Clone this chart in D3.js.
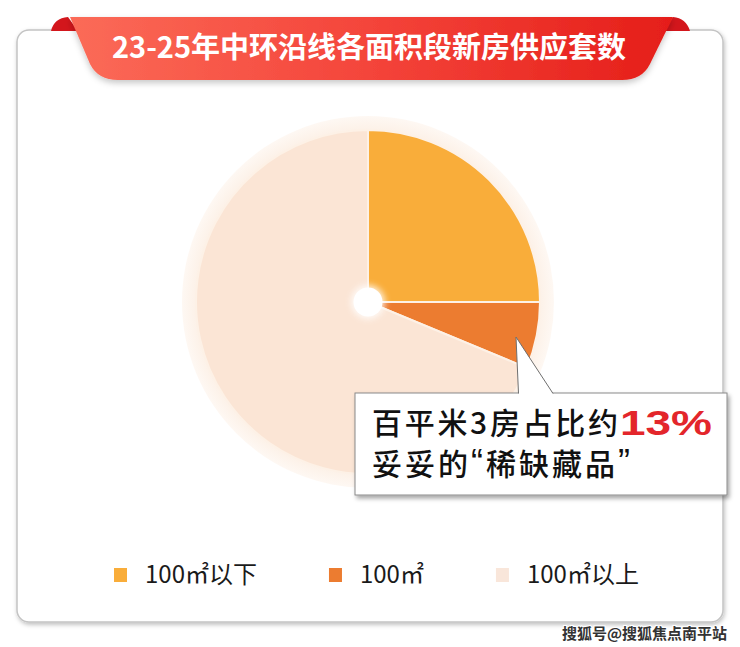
<!DOCTYPE html>
<html><head><meta charset="utf-8">
<script src="https://cdn.jsdelivr.net/npm/d3@7"></script>
<style>body{margin:0;background:#fff}svg{display:block}</style>
</head><body>
<svg id="c" width="740" height="647"></svg>
<script>
const title = "23-25年中环沿线各面积段新房供应套数";
const categories = ["100㎡以下", "100㎡", "100㎡以上"];
const values = [25, 6.25, 68.75];
const colors = ["#F9AD3A", "#EC7C30", "#FBE5D5"];
const legendColors = ["#F9AD3A", "#EC7C30", "#F9E6DA"];
const calloutLine1 = "百平米3房占比约";
const calloutHighlight = "13%";
const calloutLine2 = ["妥妥的", "“", "稀缺藏品", "”"];
const watermark = "搜狐号@搜狐焦点南平站";

const CJK = "'Noto Sans CJK SC','Noto Sans',sans-serif";
const svg = d3.select("#c");
svg.append("rect").attr("width", 740).attr("height", 647).attr("fill", "#fff");

const defs = svg.append("defs");
const sh = defs.append("filter").attr("id", "cardShadow").attr("x", "-5%").attr("y", "-5%").attr("width", "110%").attr("height", "110%");
sh.append("feDropShadow").attr("dx", 1).attr("dy", 2).attr("stdDeviation", 2).attr("flood-color", "#000").attr("flood-opacity", 0.25);
const sh2 = defs.append("filter").attr("id", "boxShadow").attr("x", "-5%").attr("y", "-10%").attr("width", "115%").attr("height", "130%");
sh2.append("feDropShadow").attr("dx", 2).attr("dy", 3).attr("stdDeviation", 2.2).attr("flood-color", "#000").attr("flood-opacity", 0.35);
const sh3 = defs.append("filter").attr("id", "ribShadow").attr("x", "-5%").attr("y", "-20%").attr("width", "110%").attr("height", "150%");
sh3.append("feDropShadow").attr("dx", 0).attr("dy", 3).attr("stdDeviation", 3).attr("flood-color", "#000").attr("flood-opacity", 0.22);
const glow = defs.append("filter").attr("id", "glow").attr("x", "-50%").attr("y", "-50%").attr("width", "200%").attr("height", "200%");
glow.append("feGaussianBlur").attr("stdDeviation", 3);
const g1 = defs.append("linearGradient").attr("id", "rib").attr("x1", 0).attr("x2", 1).attr("y1", 0).attr("y2", 0);
g1.append("stop").attr("offset", 0).attr("stop-color", "#FB6B58");
g1.append("stop").attr("offset", 0.5).attr("stop-color", "#F4443A");
g1.append("stop").attr("offset", 1).attr("stop-color", "#E51E19");
const hg = defs.append("radialGradient").attr("id", "halo");
hg.append("stop").attr("offset", 0.9).attr("stop-color", "#FCEFE4");
hg.append("stop").attr("offset", 1).attr("stop-color", "#FEF8F3");

// card
svg.append("rect").attr("x", 17).attr("y", 30).attr("width", 706).attr("height", 592)
  .attr("rx", 12).attr("fill", "#fff").attr("stroke", "#c4c4c4").attr("stroke-width", 1.5)
  .attr("filter", "url(#cardShadow)");

// ribbon folds
svg.append("path").attr("d", "M51,31 Q54,18 68,17 L78,31 Z").attr("fill", "#D3161C");
svg.append("path").attr("d", "M673,17 Q686,18 690,31 L662,31 Z").attr("fill", "#D3161C");
// ribbon
svg.append("path").attr("d", "M70,17 L673,17 L650,64 Q642,80 622,80 L118,80 Q98,80 90,64 Z")
  .attr("fill", "url(#rib)").attr("filter", "url(#ribShadow)");
svg.append("text").attr("x", 369).attr("y", 58).attr("text-anchor", "middle")
  .attr("font-family", CJK).attr("font-weight", 700).attr("font-size", 29).attr("fill", "#fff")
  .text(title);

// pie
const cx = 368, cy = 302, R = 172;
const gp = svg.append("g").attr("transform", `translate(${cx},${cy})`);
gp.append("circle").attr("r", 186).attr("fill", "url(#halo)");
const pie = d3.pie().sort(null).value(d => d)(values);
const arc = d3.arc().innerRadius(0).outerRadius(R);
gp.selectAll("path.s").data(pie).join("path").attr("class", "s")
  .attr("d", arc).attr("fill", (d, i) => colors[i])
  .attr("stroke", "#FDF1E6").attr("stroke-width", 2).attr("stroke-linejoin", "round");
gp.append("circle").attr("r", 17).attr("fill", "#fff").attr("opacity", 0.8).attr("filter", "url(#glow)");
gp.append("circle").attr("r", 14.5).attr("fill", "#fff");

// callout
svg.append("rect").attr("x", 355).attr("y", 393).attr("width", 372).attr("height", 102)
  .attr("fill", "#fff").attr("stroke", "#8a8a8a").attr("stroke-width", 1).attr("filter", "url(#boxShadow)");
svg.append("path").attr("d", "M518.5,394 L516,337 L553,394 Z").attr("fill", "#fff");
svg.append("path").attr("d", "M518.5,393.5 L516,337 L553,393.5").attr("fill", "none")
  .attr("stroke", "#6f6f6f").attr("stroke-width", 1);

svg.append("text").attr("x", 372).attr("y", 434).attr("font-family", CJK)
  .attr("font-size", 30).attr("font-weight", 500).attr("fill", "#111")
  .attr("textLength", 246).attr("lengthAdjust", "spacing").text(calloutLine1);
svg.append("text").attr("x", 620).attr("y", 435).attr("font-family", "'Liberation Sans',Arial,sans-serif")
  .attr("font-weight", 700).attr("font-size", 35).attr("fill", "#E3262B")
  .attr("textLength", 92).attr("lengthAdjust", "spacingAndGlyphs").text(calloutHighlight);
const t2 = svg.append("text").attr("x", 372).attr("y", 475).attr("font-family", CJK)
  .attr("font-size", 30).attr("font-weight", 500).attr("fill", "#111")
  .attr("textLength", 258).attr("lengthAdjust", "spacing");
calloutLine2.forEach((s, i) => {
  const ts = t2.append("tspan").text(s);
  if (i % 2 === 1) ts.attr("font-family", "'Liberation Sans',Arial,sans-serif").attr("font-size", 36);
});

// legend
let lx = 114;
const lg = svg.append("g");
categories.forEach((c, i) => {
  lg.append("rect").attr("x", lx).attr("y", 568).attr("width", 13).attr("height", 14).attr("fill", legendColors[i]);
  const tx = lg.append("text").attr("x", lx + 31).attr("y", 583).attr("font-family", CJK)
    .attr("font-size", 24).attr("fill", "#1a1a1a").text(c);
  const w = tx.node().getComputedTextLength();
  lx = lx + 31 + w + 72;
});

// watermark
svg.append("text").attr("x", 727).attr("y", 639).attr("text-anchor", "end")
  .attr("font-family", CJK).attr("font-size", 15).attr("font-weight", 700)
  .attr("fill", "#333").attr("stroke", "#fff").attr("stroke-width", 2).attr("paint-order", "stroke")
  .text(watermark);
</script>
</body></html>
